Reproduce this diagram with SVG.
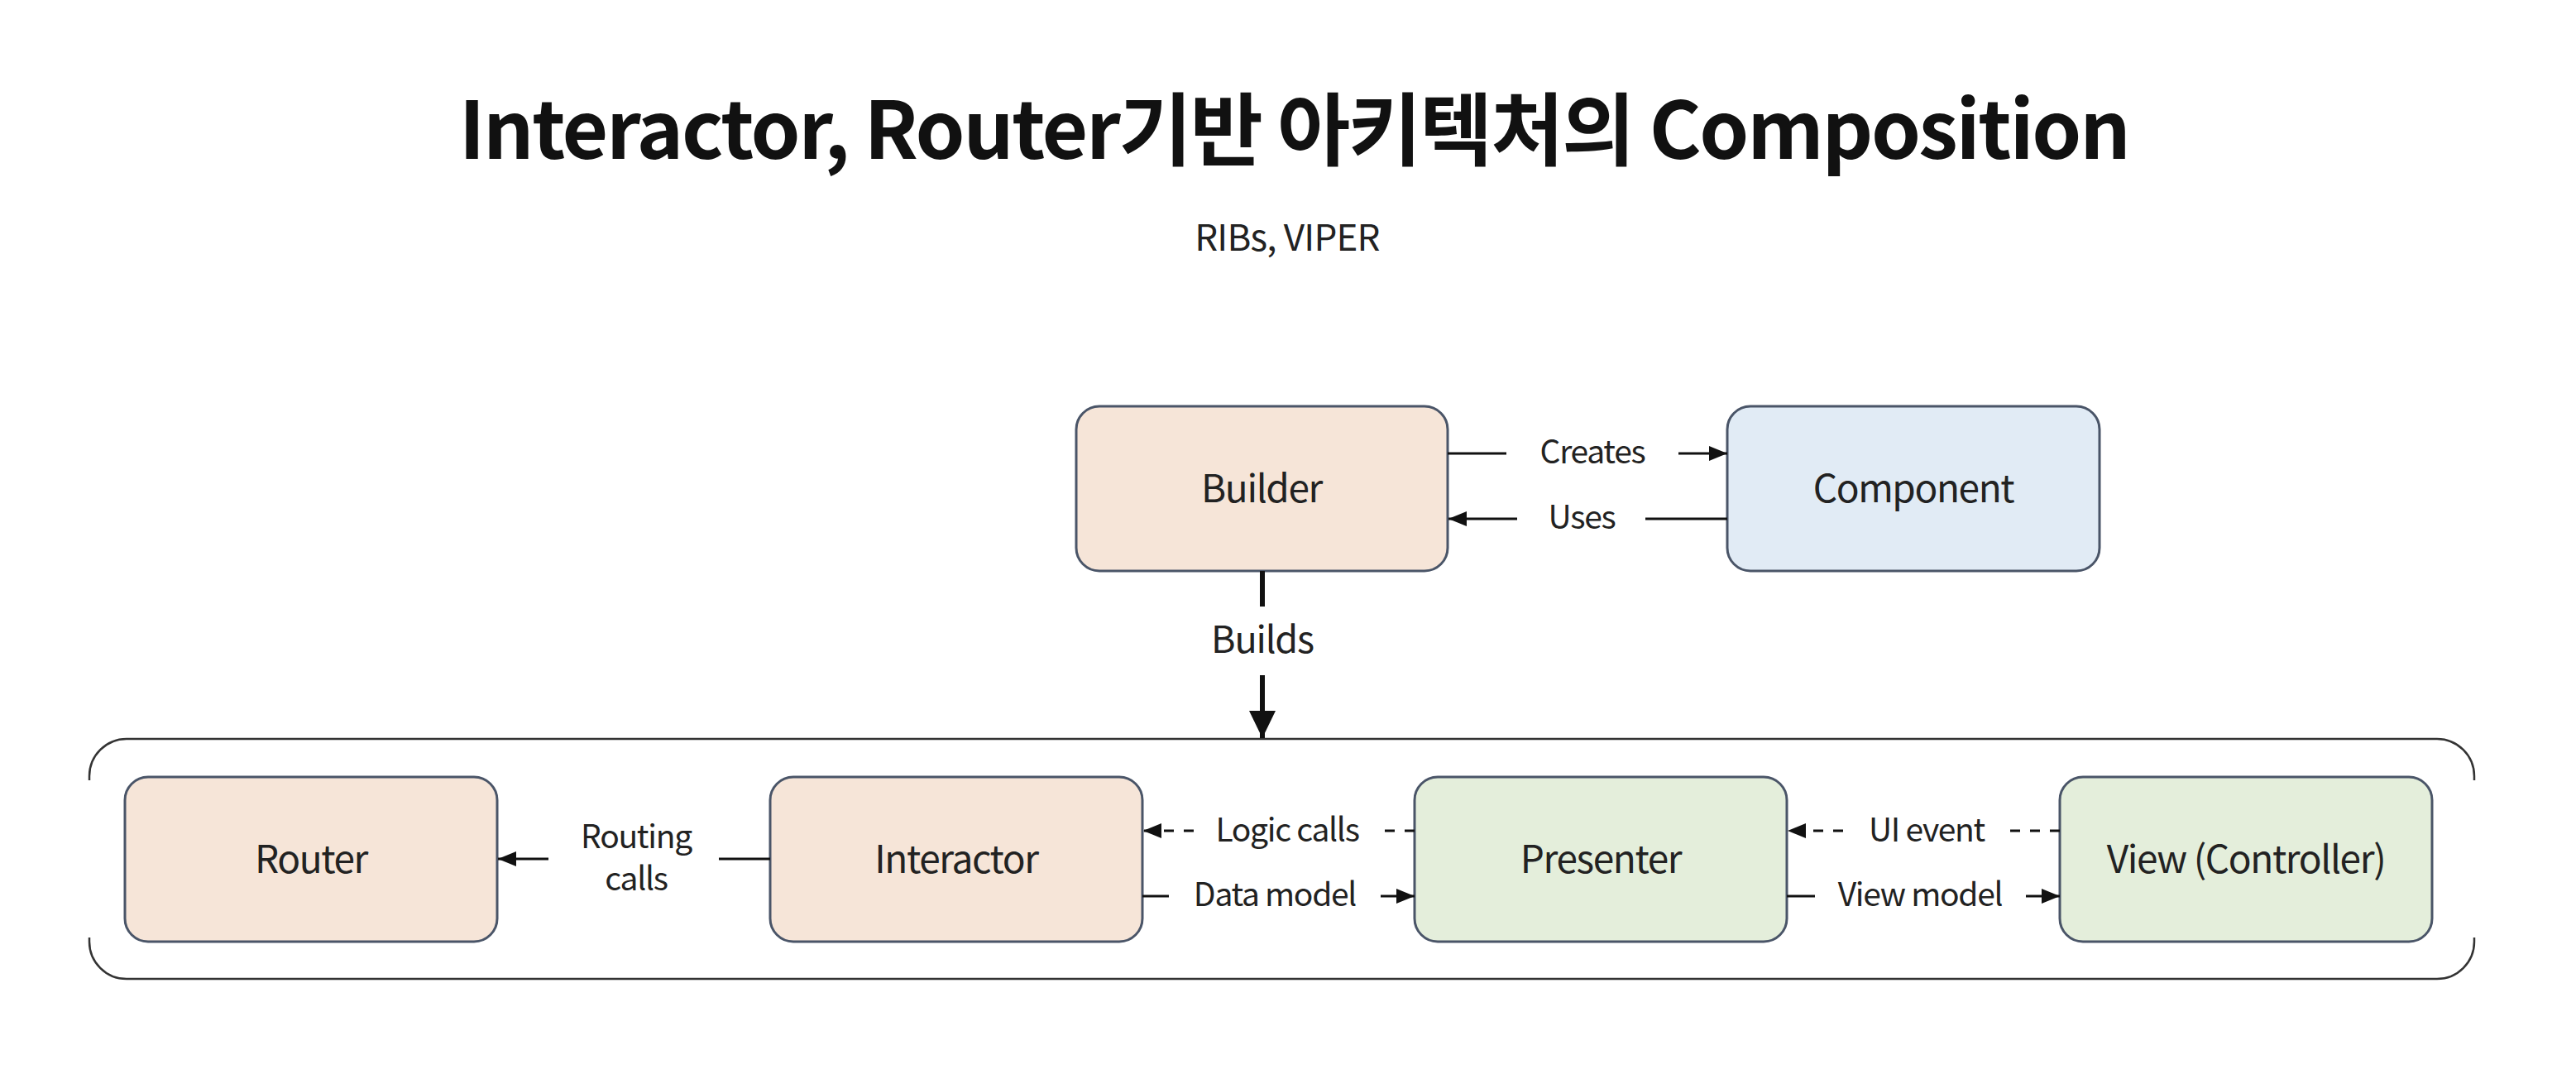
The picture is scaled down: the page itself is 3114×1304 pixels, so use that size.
<svg xmlns="http://www.w3.org/2000/svg" width="3114" height="1304" viewBox="0 0 3114 1304">
<style>
text{font-family:"Noto Sans CJK KR","Noto Sans",sans-serif;fill:#222;}
.title{font-size:96px;font-weight:700;fill:#111;letter-spacing:-2.3px;}
.sub{font-size:44px;letter-spacing:-0.8px;}
.node rect{stroke:#4a5568;stroke-width:3;}
.node text{font-size:46px;text-anchor:middle;dominant-baseline:central;letter-spacing:-1.4px;}
.peach{fill:#f6e5d8;}
.blue{fill:#e1ebf5;}
.green{fill:#e4eedb;}
.lbl{font-size:39px;text-anchor:middle;letter-spacing:-1.3px;}
.ln{stroke:#111;stroke-width:3;fill:none;}
.thick{stroke-width:6;}
.dash{stroke-dasharray:12 12;}
</style>
<defs>
<marker id="ah" markerUnits="userSpaceOnUse" markerWidth="22" markerHeight="18" refX="22" refY="9" orient="auto">
<path d="M0,0 L22,9 L0,18 z" fill="#111"/>
</marker>
<marker id="ahb" markerUnits="userSpaceOnUse" markerWidth="34" markerHeight="34" refX="33" refY="16" orient="auto">
<path d="M0,0 L33,16 L0,32 z" fill="#111"/>
</marker>
</defs>
<rect width="3114" height="1304" fill="#fff"/>
<text class="title" x="1564" y="192" text-anchor="middle">Interactor, Router기반 아키텍처의 Composition</text>
<text class="sub" x="1556" y="303" text-anchor="middle">RIBs, VIPER</text>

<g id="container">
<path d="M108,943 V938 A45,45 0 0 1 153,893 H2946 A45,45 0 0 1 2991,938 V943 M108,1133 V1138 A45,45 0 0 0 153,1183 H2946 A45,45 0 0 0 2991,1138 V1133" fill="none" stroke="#333" stroke-width="2.5"/>
</g>

<g id="builder" class="node"><rect class="peach" x="1301" y="491" width="449" height="199" rx="28"/><text x="1525" y="587">Builder</text></g>
<g id="component" class="node"><rect class="blue" x="2088" y="491" width="450" height="199" rx="28"/><text x="2313" y="587">Component</text></g>
<g id="router" class="node"><rect class="peach" x="151" y="939" width="450" height="199" rx="28"/><text x="376" y="1035">Router</text></g>
<g id="interactor" class="node"><rect class="peach" x="931" y="939" width="450" height="199" rx="28"/><text x="1156" y="1035">Interactor</text></g>
<g id="presenter" class="node"><rect class="green" x="1710" y="939" width="450" height="199" rx="28"/><text x="1935" y="1035">Presenter</text></g>
<g id="view" class="node"><rect class="green" x="2490" y="939" width="450" height="199" rx="28"/><text x="2715" y="1035">View (Controller)</text></g>

<g id="connectors">
<path class="ln" d="M1750,548 H1821"/>
<path class="ln" d="M2029,548 H2088" marker-end="url(#ah)"/>
<text class="lbl" x="1925" y="560" font-size="38">Creates</text>
<path class="ln" d="M2088,627 H1989"/>
<path class="ln" d="M1834,627 H1751" marker-end="url(#ah)"/>
<text class="lbl" x="1912" y="639">Uses</text>
<path class="ln thick" d="M1526,690 V733"/>
<path class="ln thick" d="M1526,816 V892" marker-end="url(#ahb)"/>
<text x="1526" y="789" font-size="45" text-anchor="middle" letter-spacing="-1.2">Builds</text>
<path class="ln" d="M663,1038 H602" marker-end="url(#ah)"/>
<path class="ln" d="M869,1038 H931"/>
<text class="lbl" x="769" y="1025">Routing</text>
<text class="lbl" x="769" y="1076">calls</text>
<path class="ln dash" d="M1443,1004 H1382" marker-end="url(#ah)"/>
<path class="ln dash" d="M1710,1004 H1673"/>
<text class="lbl" x="1556" y="1017">Logic calls</text>
<path class="ln" d="M1381,1083 H1413"/>
<path class="ln" d="M1669,1083 H1710" marker-end="url(#ah)"/>
<text class="lbl" x="1541" y="1095">Data model</text>
<path class="ln dash" d="M2228,1004 H2161" marker-end="url(#ah)"/>
<path class="ln dash" d="M2490,1004 H2428"/>
<text class="lbl" x="2329" y="1017">UI event</text>
<path class="ln" d="M2160,1083 H2194"/>
<path class="ln" d="M2449,1083 H2490" marker-end="url(#ah)"/>
<text class="lbl" x="2321" y="1095">View model</text>
</g>
</svg>
